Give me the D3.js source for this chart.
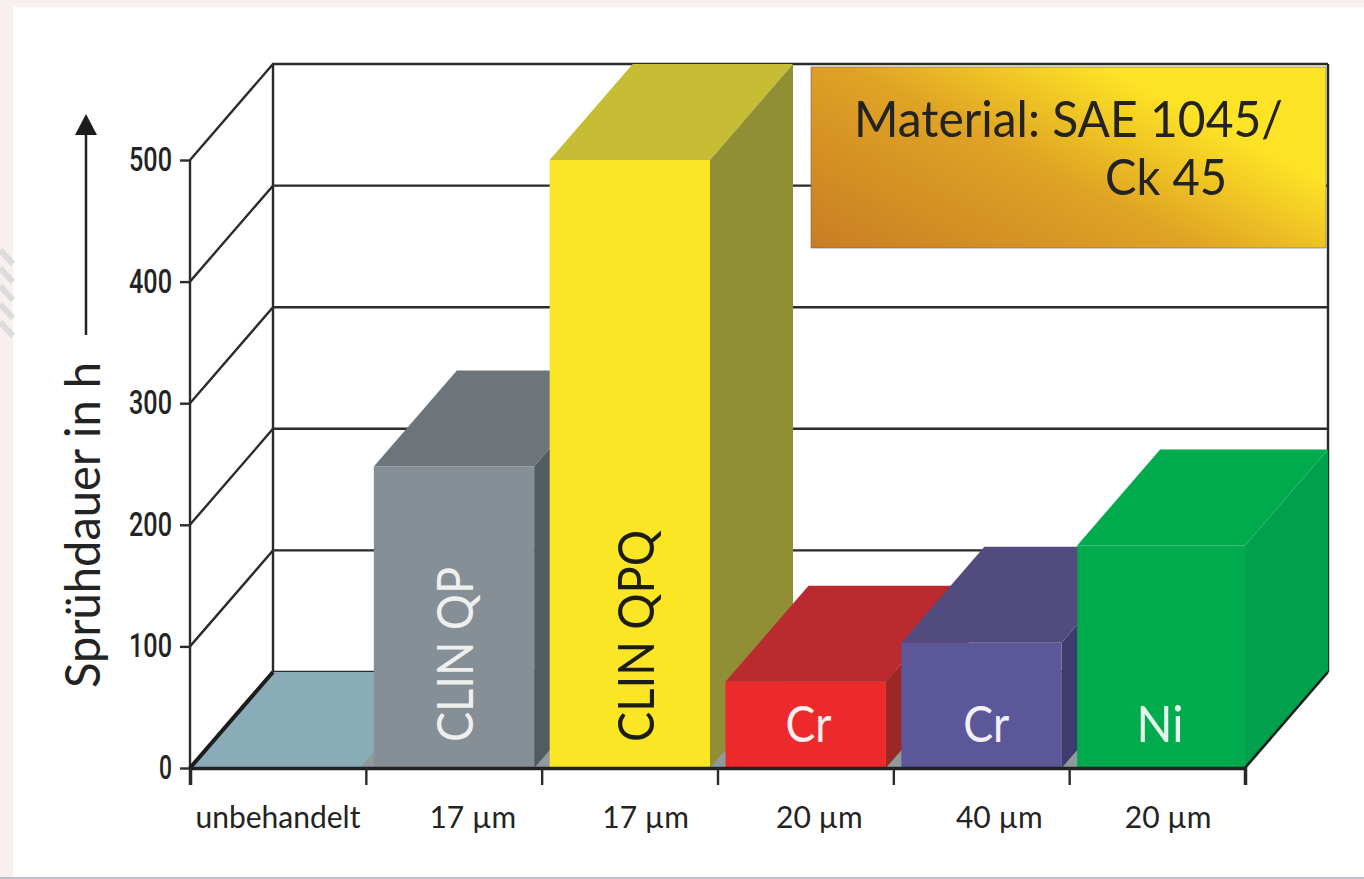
<!DOCTYPE html>
<meta charset="utf-8">
<style>
  body { margin: 0; background: #fff; }
  svg { display: block; }
  text { font-family: Lato, "Open Sans", sans-serif; fill: #232323; }
</style>

<!-- Load d3.js -->
<script src="https://d3js.org/d3.v7.min.js"></script>

<div id="my_dataviz"></div>

<script>

// data
var categories = ["unbehandelt", "17 µm", "17 µm", "20 µm", "40 µm", "20 µm"];
var values = [0, 248, 500, 71, 103, 183];
var barNames = ["", "CLIN QP", "CLIN QPQ", "Cr", "Cr", "Ni"];
var yTicks = [0, 100, 200, 300, 400, 500];

// colours of each box: front, top, side
var frontColors = ["#8aacb8", "#868e96", "#fbe625", "#ec2a2b", "#5b5798", "#00ab4e"];
var topColors = ["#8aacb8", "#6d757b", "#c6bd35", "#bb2a2e", "#514b7f", "#00ab4e"];
var sideColors = ["#8aacb8", "#515c61", "#908f36", "#9c2724", "#3f3b6c", "#00a04c"];
var nameColors = ["#fff", "#eef0f0", "#1c1c10", "#fbeeee", "#f1f0f6", "#e6f7ec"];

var width = 1364, height = 879;
var left = 190, right = 1245, bottom = 768, top500 = 160;

// the depth of the 3D box
var dx = 83, dy = 96, inset = 8;

var svg = d3.select("#my_dataviz")
  .append("svg")
    .attr("width", width)
    .attr("height", height);

// pale frame of the page behind the white panel
svg.append("rect").attr("width", width).attr("height", height).attr("fill", "#f7f0ef");
svg.append("rect").attr("x", 13).attr("y", 7).attr("width", width - 13).attr("height", 870).attr("fill", "#fff");
svg.append("rect").attr("x", 0).attr("y", 877).attr("width", width).attr("height", 2).attr("fill", "#bcbfc8");

// grey streaks on the left edge
var frameMarks = [250, 268, 286, 304, 322];
svg.append("g").selectAll("path")
  .data(frameMarks)
  .enter()
  .append("path")
    .attr("d", function (d) { return "M0," + d + "L13," + (d + 14); })
    .attr("stroke", "#dcdcdc")
    .attr("stroke-width", 6)
    .attr("fill", "none");

var x = d3.scaleBand()
  .domain(d3.range(categories.length))
  .range([left, right]);

var y = d3.scaleLinear()
  .domain([0, 500])
  .range([bottom, top500]);

// back wall grid and the diagonals on the left wall
var grid = svg.append("g")
  .attr("stroke", "#2b2b2b")
  .attr("stroke-width", 2.4)
  .attr("fill", "none");

yTicks.slice(1).forEach(function (t) {
  grid.append("path")
    .attr("d", d3.line()([[left, y(t)], [left + dx, y(t) - dy], [right + dx, y(t) - dy]]));
});
grid.append("path").attr("d", d3.line()([[left, y(0)], [left, y(500)]]));
grid.append("path").attr("d", d3.line()([[left + dx, y(0) - dy], [left + dx, y(500) - dy]]));
grid.append("path").attr("d", d3.line()([[right + dx, y(0) - dy], [right + dx, y(500) - dy]]));
grid.append("path").attr("d", d3.line()([[left + dx, y(0) - dy], [right + dx, y(0) - dy]]));

function quad(x0, y0, x1, y1, offX, offY) {
  return d3.line()([[x0, y0], [x1, y1], [x1 + offX, y1 - offY], [x0 + offX, y0 - offY]]) + "Z";
}

// floor: teal for the untreated part, grey below the boxes
svg.append("path")
  .attr("d", quad(left, bottom, x(1) + inset, bottom, dx, dy))
  .attr("fill", frontColors[0]);
svg.append("path")
  .attr("d", quad(x(1) - 6, bottom, right, bottom, dx, dy))
  .attr("fill", "#8f9a9d");

// boxes from left to right, each one covers the side of the one before
var bars = svg.append("g");
values.forEach(function (v, i) {
  if (i === 0) return;
  var x0 = x(i) + inset;
  var x1 = i === values.length - 1 ? right : x0 + x.bandwidth() - 2 * inset + 0.5;
  var g = bars.append("g");
  g.append("path")
    .attr("d", quad(x0, y(v), x1, y(v), dx, dy))
    .attr("fill", topColors[i]);
  g.append("path")
    .attr("d", quad(x1, y(0), x1, y(v), dx, dy))
    .attr("fill", sideColors[i]);
  g.append("rect")
    .attr("x", x0)
    .attr("y", y(v))
    .attr("width", x1 - x0)
    .attr("height", y(0) - y(v))
    .attr("fill", frontColors[i]);
});

// heavy floor edges
svg.append("path")
  .attr("d", d3.line()([[left, bottom], [left + dx, bottom - dy]]))
  .attr("stroke", "#1c1c1c").attr("stroke-width", 4);
svg.append("path")
  .attr("d", d3.line()([[right, bottom], [right + dx, bottom - dy]]))
  .attr("stroke", "#1c1c1c").attr("stroke-width", 2.5);

// Y axis
var yAxis = svg.append("g")
  .attr("transform", "translate(" + left + ",0)")
  .call(d3.axisLeft(y).tickValues(yTicks).tickSize(10).tickPadding(8))
yAxis.select(".domain").remove()
yAxis.selectAll(".tick line").attr("stroke", "#2b2b2b").attr("stroke-width", 2.4)
yAxis.selectAll(".tick text")
  .style("font-family", "Roboto, sans-serif")
  .style("font-size", "33px")
  .style("font-weight", 500)
  .attr("lengthAdjust", "spacingAndGlyphs")
  .attr("textLength", function (d) { return d === 0 ? 13 : 43; })

// X axis, the ticks stand between the categories
var xAxis = d3.scaleLinear().domain([0, categories.length]).range([left, right]);
var xg = svg.append("g")
  .attr("transform", "translate(0," + bottom + ")")
  .call(d3.axisBottom(xAxis).tickValues(d3.range(categories.length + 1)).tickSize(17).tickFormat(""))
xg.select(".domain").attr("stroke", "#222").attr("stroke-width", 3.5)
xg.selectAll(".tick line").attr("stroke", "#2b2b2b").attr("stroke-width", 2.4)

// category labels are not quite centred in the original
var labelShift = [0, 19, 16, 14, 18, 11];
svg.append("g").selectAll("text")
  .data(categories)
  .enter()
  .append("text")
    .attr("x", function (d, i) { return x(i) + x.bandwidth() / 2 + labelShift[i]; })
    .attr("y", 828)
    .attr("text-anchor", "middle")
    .style("font-size", "30px")
    .text(function (d) { return d; });

// names on the boxes
var nameShift = [0, 1, 6, 3, 5, 3];
var nameLength = [0, 175, 212, 46, 46, 47];
barNames.forEach(function (n, i) {
  if (!n) return;
  var cx = x(i) + x.bandwidth() / 2 + nameShift[i];
  var t = svg.append("text").text(n)
    .style("fill", nameColors[i])
    .style("font-size", "51px")
    .attr("lengthAdjust", "spacingAndGlyphs")
    .attr("textLength", nameLength[i]);
  if (i < 3) {
    t.attr("text-anchor", "start")
     .attr("transform", "translate(" + (cx + 18) + ",742) rotate(-90)");
  } else {
    t.attr("text-anchor", "middle").attr("x", cx).attr("y", 742);
  }
});

// axis title and arrow
svg.append("text")
  .attr("text-anchor", "start")
  .attr("transform", "translate(100,688) rotate(-90)")
  .style("font-size", "48px")
  .attr("lengthAdjust", "spacingAndGlyphs")
  .attr("textLength", 326)
  .text("Sprühdauer in h");

svg.append("path").attr("d", "M86,335V130").attr("stroke", "#222").attr("stroke-width", 2.5);
svg.append("path").attr("d", "M86,114L97,135H75Z").attr("fill", "#1c1c1c");

// material box
var grad = svg.append("defs").append("linearGradient")
  .attr("id", "material")
  .attr("gradientUnits", "userSpaceOnUse")
  .attr("x1", 811).attr("y1", 248)
  .attr("x2", 947).attr("y2", -15);
grad.append("stop").attr("offset", 0).attr("stop-color", "#c97d24");
grad.append("stop").attr("offset", 0.6).attr("stop-color", "#dfa324");
grad.append("stop").attr("offset", 1).attr("stop-color", "#fde325");

svg.append("rect")
  .attr("x", 811).attr("y", 67)
  .attr("width", 515).attr("height", 181)
  .attr("fill", "url(#material)")
  .attr("stroke", "#77684a")
  .attr("stroke-width", 0.6);

svg.append("text")
  .attr("x", 854).attr("y", 137)
  .style("font-size", "50px")
  .attr("lengthAdjust", "spacingAndGlyphs")
  .attr("textLength", 429)
  .text("Material: SAE 1045/");
svg.append("text")
  .attr("x", 1105).attr("y", 195)
  .style("font-size", "50px")
  .attr("lengthAdjust", "spacingAndGlyphs")
  .attr("textLength", 122)
  .text("Ck 45");

</script>
